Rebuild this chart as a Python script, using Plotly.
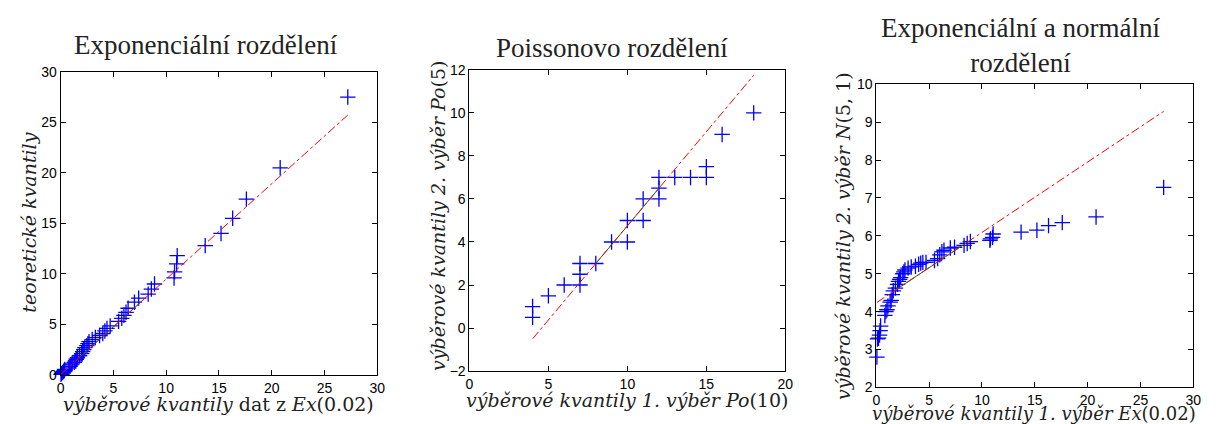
import numpy as np
import plotly.graph_objects as go

# ---------------- data ----------------
# sample quantiles of Ex(0.02) sample (shared by panels 1 and 3)
ex_sample = [0.05, 0.1, 0.2, 0.3, 0.35, 0.4, 0.8, 0.9, 1.0, 1.1, 1.3, 1.4, 1.5, 1.6, 1.8,
             2.0, 2.1, 2.2, 2.3, 2.5, 2.6, 2.7, 3.0, 3.3, 3.7, 4.0, 4.2, 4.4, 4.7, 5.5,
             5.8, 6.0, 6.2, 6.4, 7.0, 7.4, 8.3, 8.6, 8.9, 10.75, 10.8, 11.0, 11.05, 13.7,
             15.2, 16.3, 17.6, 20.8, 27.2]
# theoretical exponential quantiles (panel 1)
theo_q = [0.05, 0.15, 0.25, 0.35, 0.45, 0.55, 0.7, 0.85, 1.0, 1.1, 1.25, 1.4, 1.55, 1.7, 1.9,
          2.1, 2.3, 2.5, 2.7, 2.9, 3.1, 3.3, 3.5, 3.7, 3.9, 4.1, 4.35, 4.6, 4.85, 5.3,
          5.6, 5.9, 6.2, 6.6, 7.2, 7.6, 8.0, 8.5, 9.0, 9.6, 10.2, 11.0, 11.8, 12.8,
          14.0, 15.5, 17.4, 20.5, 27.5]
# sorted N(5,1) sample (panel 3)
norm_sample = [2.8, 3.28, 3.3, 3.38, 3.5, 3.62, 3.9, 4.0, 4.05, 4.15, 4.25, 4.3, 4.45, 4.55, 4.62,
               4.72, 4.8, 4.85, 4.9, 5.0, 5.05, 5.1, 5.15, 5.18, 5.2, 5.25, 5.28, 5.3, 5.3, 5.35,
               5.4, 5.5, 5.58, 5.62, 5.68, 5.7, 5.75, 5.8, 5.85, 5.88, 5.92, 5.96, 6.05, 6.1,
               6.15, 6.27, 6.35, 6.5, 7.28]
# Poisson samples (panel 2)
po10_q = [4, 4, 5, 6, 7, 7, 7, 8, 9, 10, 10, 11, 11, 12, 12, 12, 13, 14, 15, 15, 16, 18]
po5_q = [0.5, 1, 1.5, 2, 2, 2.5, 3, 3, 4, 4, 5, 5, 6, 6, 6.5, 7, 7, 7, 7, 7.5, 9, 10]

# first/third quartiles (x, y) used for the reference lines
p1_qx, p1_qy = [1.5, 7.8], [1.45, 7.4]
p2_qx, p2_qy = [8, 12], [3, 6.5]
p3_qx, p3_qy = [1.7, 8.7], [4.55, 5.85]

titles = ["Exponenciální rozdělení", "Poissonovo rozdělení", "Exponenciální a normální<br>rozdělení"]

# ---------------- figure ----------------
fig = go.Figure()

panels = [
    (ex_sample, theo_q, p1_qx, p1_qy, "x", "y"),
    (po10_q, po5_q, p2_qx, p2_qy, "x2", "y2"),
    (ex_sample, norm_sample, p3_qx, p3_qy, "x3", "y3"),
]

for xs, ys, qx, qy, xa, ya in panels:
    fig.add_trace(go.Scatter(x=xs, y=ys, mode="markers", xaxis=xa, yaxis=ya,
                             marker=dict(symbol="cross-thin", size=11,
                                         line=dict(color="rgb(0,0,255)", width=1.3)),
                             cliponaxis=False, showlegend=False))
    fig.add_trace(go.Scatter(x=qx, y=qy, mode="lines", xaxis=xa, yaxis=ya,
                             line=dict(color="rgb(0,128,0)", width=1),
                             showlegend=False))
    slope = (qy[1] - qy[0]) / (qx[1] - qx[0])
    xe = [min(xs), max(xs)]
    ye = [qy[0] + slope * (v - qx[0]) for v in xe]
    fig.add_trace(go.Scatter(x=xe, y=ye, mode="lines", xaxis=xa, yaxis=ya,
                             line=dict(color="rgb(255,0,0)", width=1, dash="dashdot"),
                             showlegend=False))

W, H = 1216, 424
def px(x):
    return x / W
def py(y):
    return 1 - y / H

ax_common = dict(showline=True, mirror="ticks", ticks="inside", ticklen=5,
                 linecolor="black", linewidth=1, tickcolor="black",
                 showgrid=False, zeroline=False,
                 tickfont=dict(family="Liberation Sans, Arial, sans-serif", size=14, color="black"))

fig.update_layout(
    width=W, height=H, margin=dict(l=0, r=0, t=0, b=0),
    paper_bgcolor="white", plot_bgcolor="white",
    xaxis=dict(domain=[px(49), px(369)], range=[0, 30], dtick=5, anchor="y", **ax_common),
    yaxis=dict(domain=[py(373), py(58)], range=[0, 30], dtick=5, anchor="x", **ax_common),
    xaxis2=dict(domain=[px(462), px(781)], range=[0, 20], dtick=5, anchor="y2", **ax_common),
    yaxis2=dict(domain=[py(369), py(56)], range=[-2, 12], dtick=2, anchor="x2", **ax_common),
    xaxis3=dict(domain=[px(873), px(1193)], range=[0, 30], dtick=5, anchor="y3", **ax_common),
    yaxis3=dict(domain=[py(386), py(71)], range=[2, 10], dtick=1, anchor="x3", **ax_common),
)

serif = "Liberation Serif, DejaVu Serif, serif"
lserif = "DejaVu Serif, Liberation Serif, serif"
tfont = dict(family=serif, size=27, color="#222")
lfont = dict(family=lserif, size=19, color="#222")
lfont3 = dict(family=lserif, size=18, color="#222")

anns = [
    dict(text=titles[0], x=px(196), y=py(30), font=tfont),
    dict(text=titles[1], x=px(606), y=py(33), font=tfont),
    dict(text=titles[2], x=px(1019), y=py(31), font=tfont),
    dict(text="<i>výběrové kvantily</i> dat z <i>Ex</i>(0.02)", x=px(209), y=py(403), font=lfont),
    dict(text="<i>výběrové kvantily 1. výběr Po</i>(10)", x=px(621), y=py(399), font=lfont),
    dict(text="<i>výběrové kvantily 1. výběr Ex</i>(0.02)", x=px(1032), y=py(413), font=lfont3),
    dict(text="<i>teoretické kvantily</i>", x=px(17), y=py(215), font=lfont, textangle=-90),
    dict(text="<i>výběrové kvantily 2. výběr Po</i>(5)", x=px(430), y=py(208), font=lfont, textangle=-90),
    dict(text="<i>výběrové kvantily 2. výběr N</i>(5, 1)", x=px(840), y=py(229), font=lfont, textangle=-90),
]
for a in anns:
    fig.add_annotation(xref="paper", yref="paper", showarrow=False,
                       xanchor="center", yanchor="middle", **a)

fig.write_html("out.html")
